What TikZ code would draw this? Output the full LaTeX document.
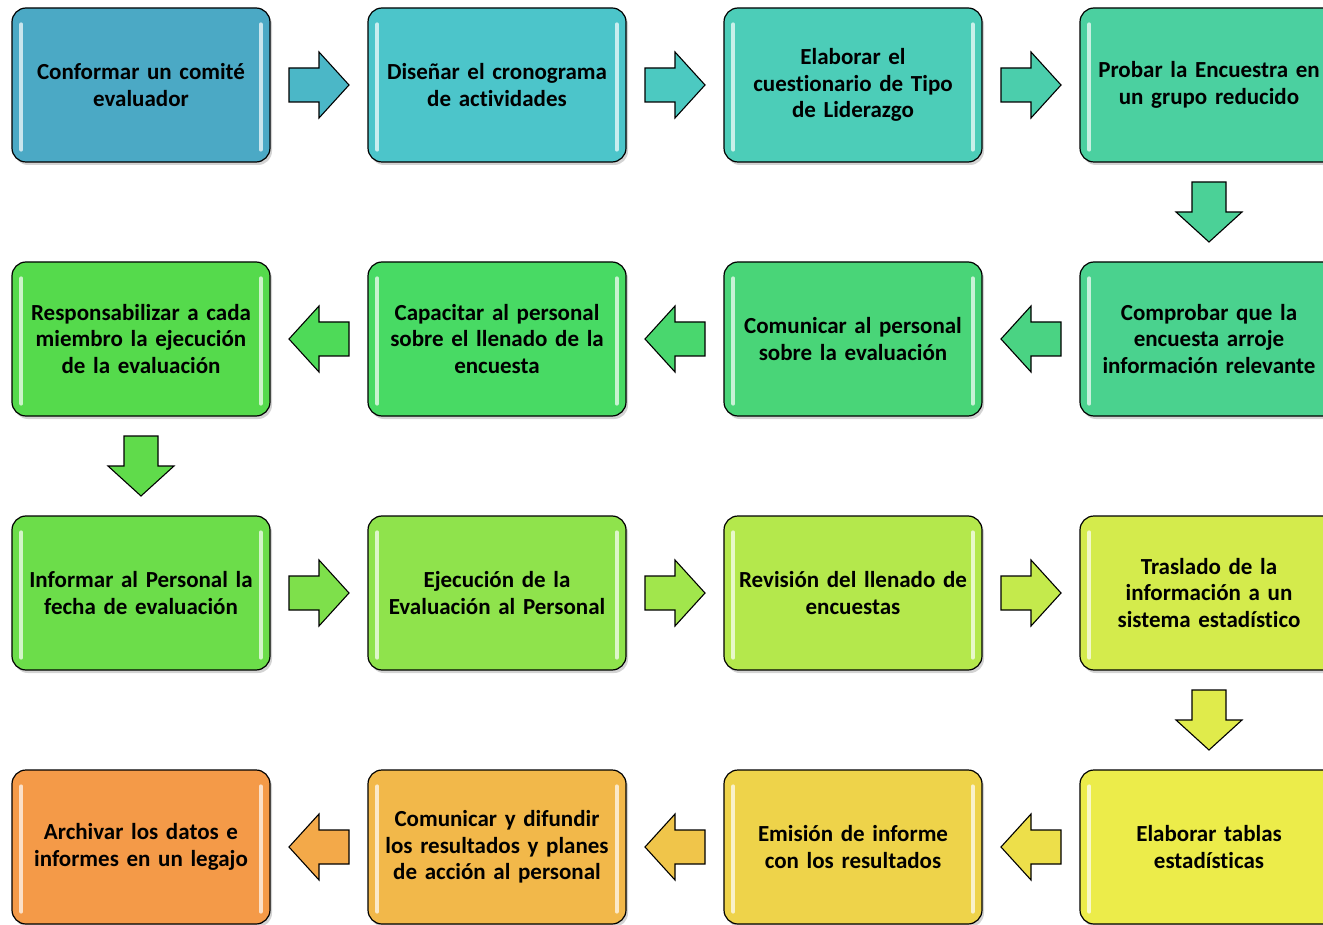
\documentclass[tikz,border=0pt]{standalone}
\usepackage{fontspec}
\setmainfont{Carlito}[Ligatures=NoCommon]
\usetikzlibrary{calc, shadows}

\definecolor{cConformar}{HTML}{4BA9C5}
\definecolor{cDisenar}{HTML}{4CC5CA}
\definecolor{cElaborar}{HTML}{4CCDB8}
\definecolor{cProbar}{HTML}{4BD0A0}
\definecolor{cComprobar}{HTML}{4AD28E}
\definecolor{cComunicar}{HTML}{49D578}
\definecolor{cCapacitar}{HTML}{48DA64}
\definecolor{cResponsab}{HTML}{55DA4C}
\definecolor{cInformar}{HTML}{6CDD4A}
\definecolor{cEjecucion}{HTML}{8FE34C}
\definecolor{cRevision}{HTML}{B4E84C}
\definecolor{cTraslado}{HTML}{D4EB4C}
\definecolor{cTablas}{HTML}{ECEC4A}
\definecolor{cEmision}{HTML}{EED34A}
\definecolor{cDifundir}{HTML}{F2B84A}
\definecolor{cArchivar}{HTML}{F49A48}

\begin{document}
\begin{tikzpicture}[x=1pt, y=1pt,
    stepbox/.style={draw=black, line width=1.2pt, rounded corners=14pt,
        minimum width=258pt, minimum height=154pt, text width=250pt, align=center,
        font=\bfseries\fontsize{23}{26.5}\selectfont,
        drop shadow={opacity=0.35, shadow xshift=2pt, shadow yshift=-3pt}},
    gloss/.style={white, opacity=0.7, line width=4pt, line cap=round},
    blockarrow/.pic={
        \draw[line width=1.1pt, pic actions] (-30,-17) -- (0,-17) -- (0,-33) -- (30,0)
            -- (0,33) -- (0,17) -- (-30,17) -- cycle;
    }]
    \clip (0,0) rectangle (1323,-925);

    % row 1
    \node[stepbox, fill=cConformar] (conformar) at (141,-85) {Conformar un comité\\evaluador};
    \node[stepbox, fill=cDisenar] (disenar) at (497,-85) {Diseñar el cronograma\\de actividades};
    \node[stepbox, fill=cElaborar] (elaborar) at (853,-85) {Elaborar el\\cuestionario de Tipo\\de Liderazgo};
    \node[stepbox, fill=cProbar] (probar) at (1209,-85) {Probar la Encuestra en\\un grupo reducido};

    % row 2
    \node[stepbox, fill=cComprobar] (comprobar) at (1209,-339) {Comprobar que la\\encuesta arroje\\información relevante};
    \node[stepbox, fill=cComunicar] (comunicar) at (853,-339) {Comunicar al personal\\sobre la evaluación};
    \node[stepbox, fill=cCapacitar] (capacitar) at (497,-339) {Capacitar al personal\\sobre el llenado de la\\encuesta};
    \node[stepbox, fill=cResponsab] (responsab) at (141,-339) {Responsabilizar a cada\\miembro la ejecución\\de la evaluación};

    % row 3
    \node[stepbox, fill=cInformar] (informar) at (141,-593) {Informar al Personal la\\fecha de evaluación};
    \node[stepbox, fill=cEjecucion] (ejecucion) at (497,-593) {Ejecución de la\\Evaluación al Personal};
    \node[stepbox, fill=cRevision] (revision) at (853,-593) {Revisión del llenado de\\encuestas};
    \node[stepbox, fill=cTraslado] (traslado) at (1209,-593) {Traslado de la\\información a un\\sistema estadístico};

    % row 4
    \node[stepbox, fill=cTablas] (tablas) at (1209,-847) {Elaborar tablas\\estadísticas};
    \node[stepbox, fill=cEmision] (emision) at (853,-847) {Emisión de informe\\con los resultados};
    \node[stepbox, fill=cDifundir] (difundir) at (497,-847) {Comunicar y difundir\\los resultados y planes\\de acción al personal};
    \node[stepbox, fill=cArchivar] (archivar) at (141,-847) {Archivar los datos e\\informes en un legajo};

    % glossy edges
    \foreach \n in {conformar, disenar, elaborar, probar, comprobar, comunicar, capacitar, responsab,
                    informar, ejecucion, revision, traslado, tablas, emision, difundir, archivar} {
        \draw[gloss] ([xshift=10pt, yshift=-17pt]\n.north west) -- ([xshift=10pt, yshift=13pt]\n.south west);
        \draw[gloss] ([xshift=-10pt, yshift=-17pt]\n.north east) -- ([xshift=-10pt, yshift=13pt]\n.south east);
    }

    % arrows
    \pic[fill=cConformar!50!cDisenar] at ($(conformar.east)!.5!(disenar.west)$) {blockarrow};
    \pic[fill=cDisenar!50!cElaborar] at ($(disenar.east)!.5!(elaborar.west)$) {blockarrow};
    \pic[fill=cElaborar!50!cProbar] at ($(elaborar.east)!.5!(probar.west)$) {blockarrow};
    \pic[fill=cProbar!50!cComprobar, rotate=-90] at ($(probar.south)!.5!(comprobar.north)$) {blockarrow};
    \pic[fill=cComprobar!50!cComunicar, rotate=180] at ($(comprobar.west)!.5!(comunicar.east)$) {blockarrow};
    \pic[fill=cComunicar!50!cCapacitar, rotate=180] at ($(comunicar.west)!.5!(capacitar.east)$) {blockarrow};
    \pic[fill=cCapacitar!50!cResponsab, rotate=180] at ($(capacitar.west)!.5!(responsab.east)$) {blockarrow};
    \pic[fill=cResponsab!50!cInformar, rotate=-90] at ($(responsab.south)!.5!(informar.north)$) {blockarrow};
    \pic[fill=cInformar!50!cEjecucion] at ($(informar.east)!.5!(ejecucion.west)$) {blockarrow};
    \pic[fill=cEjecucion!50!cRevision] at ($(ejecucion.east)!.5!(revision.west)$) {blockarrow};
    \pic[fill=cRevision!50!cTraslado] at ($(revision.east)!.5!(traslado.west)$) {blockarrow};
    \pic[fill=cTraslado!50!cTablas, rotate=-90] at ($(traslado.south)!.5!(tablas.north)$) {blockarrow};
    \pic[fill=cTablas!50!cEmision, rotate=180] at ($(tablas.west)!.5!(emision.east)$) {blockarrow};
    \pic[fill=cEmision!50!cDifundir, rotate=180] at ($(emision.west)!.5!(difundir.east)$) {blockarrow};
    \pic[fill=cDifundir!50!cArchivar, rotate=180] at ($(difundir.west)!.5!(archivar.east)$) {blockarrow};
\end{tikzpicture}
\end{document}
